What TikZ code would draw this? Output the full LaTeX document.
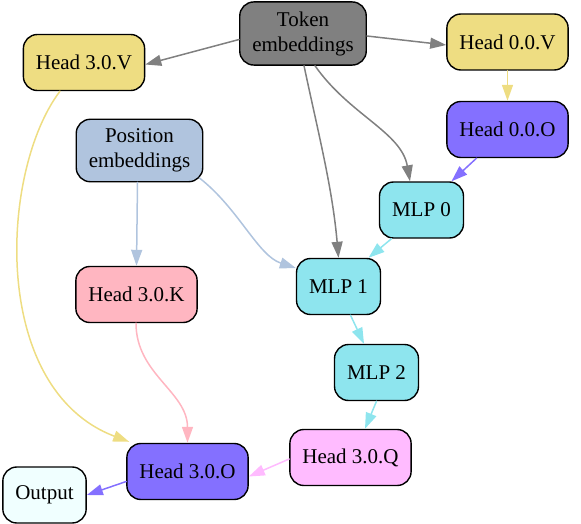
\documentclass[tikz,border=0pt]{standalone}
\usepackage{fontspec}
\setmainfont{Liberation Serif}
\usetikzlibrary{arrows.meta}

\definecolor{tokgray}{HTML}{808080}
\definecolor{vgold}{HTML}{EEDD82}
\definecolor{oslate}{HTML}{8470FF}
\definecolor{possteel}{HTML}{B0C4DE}
\definecolor{mlpcyan}{HTML}{8EE5EE}
\definecolor{kpink}{HTML}{FFB6C1}
\definecolor{qplum}{HTML}{FFBBFF}
\definecolor{outazure}{HTML}{F0FFFF}

\begin{document}
\begin{tikzpicture}[
    x=1pt,
    y=1pt,
    line cap=round,
    line join=round,
    block/.style={
        draw=black,
        line width=1.4pt,
        rounded corners=14pt,
        align=center,
        inner xsep=12.5pt,
        inner ysep=9.5pt,
        minimum height=56pt,
        font=\fontsize{21}{25}\selectfont
    },
    link/.style={
        line width=1.5pt,
        -{Triangle[length=16pt,width=11pt]}
    }
]

\useasboundingbox (0,0) rectangle (581,-524);

% =================================================
% Входы
% =================================================

\node[block, fill=tokgray] (tok) at (303,-33.5) {Token\\embeddings};
\node[block, fill=possteel] (pos) at (139.5,-150.5) {Position\\embeddings};

% =================================================
% Головы внимания
% =================================================

\node[block, fill=vgold] (h3v) at (84,-62.5) {Head 3.0.V};
\node[block, fill=vgold] (h0v) at (507.5,-42) {Head 0.0.V};
\node[block, fill=oslate] (h0o) at (507.5,-129.5) {Head 0.0.O};
\node[block, fill=kpink] (h3k) at (136.5,-294.5) {Head 3.0.K};
\node[block, fill=qplum] (h3q) at (350.5,-457.5) {Head 3.0.Q};
\node[block, fill=oslate] (h3o) at (187.5,-471.5) {Head 3.0.O};

% =================================================
% MLP и выход
% =================================================

\node[block, fill=mlpcyan] (mlp0) at (421.5,-210) {MLP 0};
\node[block, fill=mlpcyan] (mlp1) at (338.5,-286.5) {MLP 1};
\node[block, fill=mlpcyan] (mlp2) at (376.5,-372.5) {MLP 2};
\node[block, fill=outazure] (outp) at (44.5,-495) {Output};

% =================================================
% Рёбра от эмбеддингов
% =================================================

\draw[link, tokgray] ([yshift=-6pt]tok.west) -- ([yshift=-2pt]h3v.east);
\draw[link, tokgray] ([yshift=-2.5pt]tok.east) -- ([yshift=-3pt]h0v.west);
\draw[link, tokgray] ([xshift=12pt]tok.south)
    .. controls +(-55:60) and +(100:50) .. ([xshift=-11.5pt]mlp0.north);
\draw[link, tokgray] ([xshift=1pt]tok.south)
    .. controls +(-78:70) and +(95:70) .. (mlp1.north);

\draw[link, possteel] ([xshift=-2pt]pos.south) -- (h3k.north);
\draw[link, possteel] ([xshift=-4pt,yshift=-27.5pt]pos.east)
    .. controls +(-38:50) and +(162:40) .. ([yshift=18.5pt]mlp1.west);

% =================================================
% Остальные рёбра
% =================================================

\draw[link, vgold] (h0v.south) -- (h0o.north);
\draw[link, oslate] ([xshift=-31pt]h0o.south) -- ([xshift=30pt]mlp0.north);
\draw[link, mlpcyan] ([xshift=-30pt]mlp0.south) -- ([xshift=30pt]mlp1.north);
\draw[link, mlpcyan] ([xshift=12pt]mlp1.south) -- ([xshift=-12.5pt]mlp2.north);
\draw[link, mlpcyan] (mlp2.south) -- ([xshift=14.5pt]h3q.north);

\draw[link, vgold] ([xshift=-24pt]h3v.south)
    .. controls +(-60,-79) and +(-140,53) .. ([xshift=3pt,yshift=1pt]h3o.north west);
\draw[link, kpink] ([xshift=-0.5pt]h3k.south)
    .. controls +(-90:51) and +(90:51) .. (h3o.north);
\draw[link, qplum] ([yshift=-1.5pt]h3q.west) -- ([yshift=-5pt]h3o.east);
\draw[link, oslate] ([yshift=-10pt]h3o.west) -- (outp.east);

\end{tikzpicture}
\end{document}
